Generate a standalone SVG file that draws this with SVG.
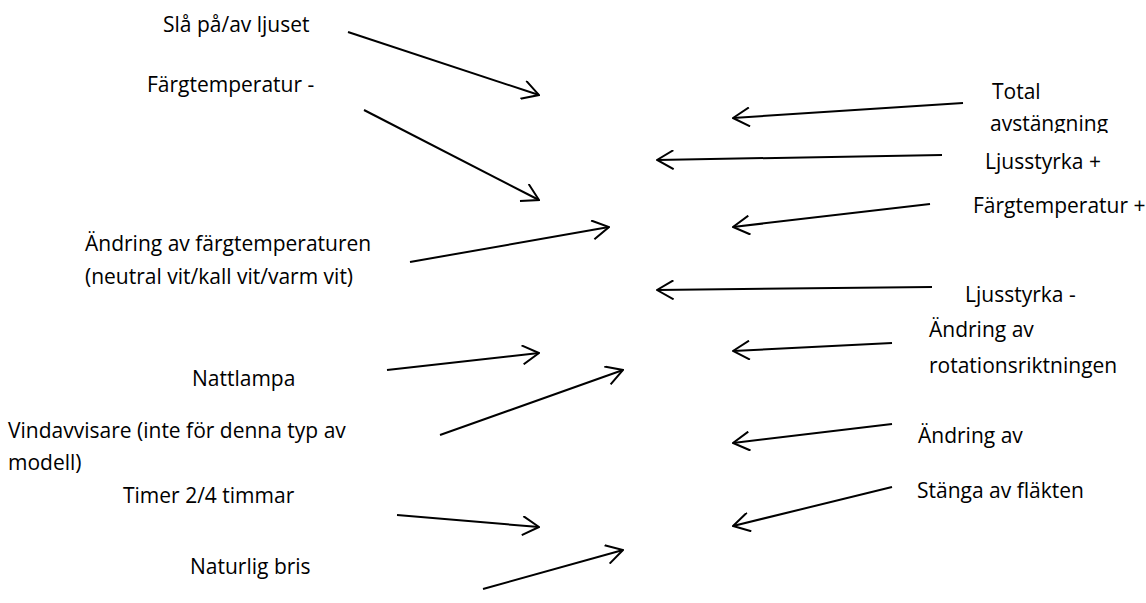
<svg xmlns="http://www.w3.org/2000/svg" width="1146" height="603" viewBox="0 0 1146 603">
<style>
text{font-family:"Open Sans","Liberation Sans",sans-serif;font-size:21px;fill:#000}
.c line{stroke:#000;stroke-width:2;fill:none;marker-end:url(#ah)}
</style>
<defs>
<marker id="ah" markerUnits="userSpaceOnUse" viewBox="0 0 20 20" markerWidth="20" markerHeight="20" refX="19" refY="10" orient="auto">
<path d="M2.5,0.5 L19,10 L2.5,19.5" fill="none" stroke="#000" stroke-width="2"/>
</marker>
<clipPath id="clipTot"><rect x="900" y="60" width="246" height="73"/></clipPath>
</defs>
<rect width="1146" height="603" fill="#fff"/>
<g id="n-sla"><text x="163" y="32">Slå på/av ljuset</text></g>
<g id="n-farg-minus"><text x="147" y="92">Färgtemperatur -</text></g>
<g id="n-andring-farg"><text x="85" y="251">Ändring av färgtemperaturen</text><text x="85" y="284">(neutral vit/kall vit/varm vit)</text></g>
<g id="n-natt"><text x="192" y="386">Nattlampa</text></g>
<g id="n-vind"><text x="8" y="438">Vindavvisare (inte för denna typ av</text><text x="8" y="470">modell)</text></g>
<g id="n-timer"><text x="123" y="503">Timer 2/4 timmar</text></g>
<g id="n-bris"><text x="190" y="574">Naturlig bris</text></g>
<g id="n-total" clip-path="url(#clipTot)"><text x="992" y="99">Total</text><text x="990" y="131">avstängning</text></g>
<g id="n-ljus-plus"><text x="985" y="169">Ljusstyrka +</text></g>
<g id="n-farg-plus"><text x="973" y="213">Färgtemperatur +</text></g>
<g id="n-ljus-minus"><text x="965" y="302">Ljusstyrka -</text></g>
<g id="n-rot"><text x="929" y="337">Ändring av</text><text x="929" y="373">rotationsriktningen</text></g>
<g id="n-andring2"><text x="918" y="443">Ändring av</text></g>
<g id="n-stanga"><text x="917" y="498">Stänga av fläkten</text></g>
<g id="connectors" class="c">
<line x1="348" y1="32" x2="539" y2="95"/>
<line x1="364" y1="110" x2="539" y2="200"/>
<line x1="410" y1="262" x2="609" y2="227"/>
<line x1="387" y1="370" x2="539" y2="353"/>
<line x1="440" y1="435" x2="623" y2="370"/>
<line x1="397" y1="515" x2="539" y2="527"/>
<line x1="483" y1="589" x2="623" y2="550"/>
<line x1="963" y1="103" x2="733" y2="118"/>
<line x1="942" y1="155" x2="657" y2="160"/>
<line x1="930" y1="204" x2="733" y2="227"/>
<line x1="932" y1="287" x2="657" y2="290"/>
<line x1="892" y1="343" x2="733" y2="351"/>
<line x1="892" y1="424" x2="733" y2="443"/>
<line x1="892" y1="487" x2="733" y2="526"/>
</g>
</svg>
